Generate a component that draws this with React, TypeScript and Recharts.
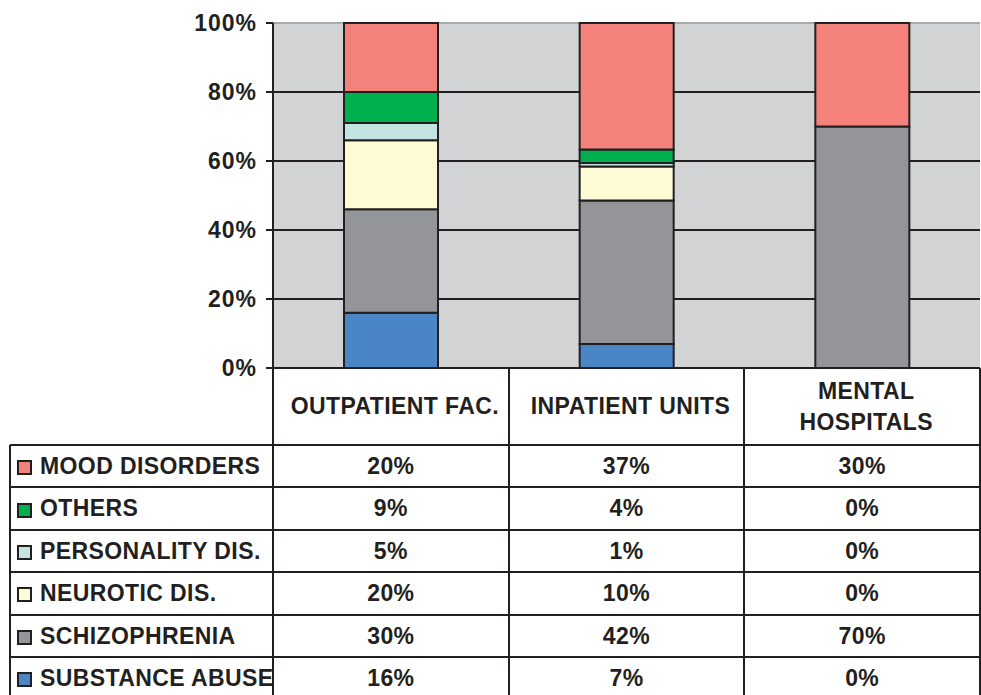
import { Bar, BarChart, CartesianGrid, XAxis, YAxis } from "recharts";

const categories = ["OUTPATIENT FAC.", "INPATIENT UNITS", "MENTAL HOSPITALS"];
const categoryLines = [["OUTPATIENT FAC."], ["INPATIENT UNITS"], ["MENTAL", "HOSPITALS"]];

const substanceAbuse = [16, 7, 0];
const schizophrenia = [30, 42, 70];
const neuroticDis = [20, 10, 0];
const personalityDis = [5, 1, 0];
const others = [9, 4, 0];
const moodDisorders = [20, 37, 30];

const yTicks = [0, 0.2, 0.4, 0.6, 0.8, 1];

// stacking order, bottom to top
const series = [
  { key: "substance", label: "SUBSTANCE ABUSE", color: "#4a86c5", values: substanceAbuse },
  { key: "schizo", label: "SCHIZOPHRENIA", color: "#939598", values: schizophrenia },
  { key: "neurotic", label: "NEUROTIC DIS.", color: "#fffbd6", values: neuroticDis },
  { key: "personality", label: "PERSONALITY DIS.", color: "#c3e4e1", values: personalityDis },
  { key: "others", label: "OTHERS", color: "#00b04f", values: others },
  { key: "mood", label: "MOOD DISORDERS", color: "#f4827a", values: moodDisorders },
];

const data = categories.map((name, i) => {
  const row: Record<string, string | number> = { name };
  series.forEach((s) => (row[s.key] = s.values[i]));
  return row;
});

const INK = "#231f20";
const FONT = "'Liberation Sans', Arial, Helvetica, sans-serif";
const PLOT_LEFT = 273;
const PLOT_RIGHT = 980;
const PLOT_TOP = 23;
const PLOT_BOTTOM = 368;
const HEADER_BOTTOM = 445;
const ROW_H = 42.4;
const COL_W = (PLOT_RIGHT - PLOT_LEFT) / categories.length;

const textStyle = {
  position: "absolute" as const,
  fontFamily: FONT,
  fontWeight: 700,
  fontSize: 23,
  color: INK,
  letterSpacing: 0.4,
  whiteSpace: "nowrap" as const,
};

const hLine = (y: number, x1: number, x2: number, k: string) => (
  <div key={k} style={{ position: "absolute", left: x1, top: y - 1, width: x2 - x1, height: 2, background: INK }} />
);
const vLine = (x: number, y1: number, y2: number, k: string) => (
  <div key={k} style={{ position: "absolute", left: x - 1, top: y1, width: 2, height: y2 - y1, background: INK }} />
);

export default function App() {
  const rows = [...series].reverse();
  const tableBottom = HEADER_BOTTOM + rows.length * ROW_H;
  return (
    <div style={{ position: "absolute", left: 0, top: 0, width: 981, height: 695, background: "#fff", overflow: "hidden" }}>
      <BarChart
        width={981}
        height={695}
        data={data}
        stackOffset="expand"
        margin={{ top: PLOT_TOP, right: 981 - PLOT_RIGHT, left: PLOT_LEFT - 70, bottom: 695 - PLOT_BOTTOM }}
        barSize={94}
      >
        <CartesianGrid
          vertical={false}
          fill="#d1d3d4"
          fillOpacity={1}
          horizontal={(p: any) => (
            <line
              key={p.key ?? `h-${p.index}`}
              x1={p.x1}
              x2={p.x2}
              y1={p.y1}
              y2={p.y2}
              stroke={Math.abs(p.y1 - PLOT_TOP) < 1 ? "#a7a9ac" : INK}
              strokeWidth={2}
            />
          )}
        />
        <XAxis dataKey="name" hide />
        <YAxis
          width={70}
          domain={[0, 1]}
          ticks={yTicks}
          interval={0}
          tickFormatter={(v: number) => `${Math.round(v * 100)}%`}
          axisLine={{ stroke: INK, strokeWidth: 2 }}
          tickLine={{ stroke: INK, strokeWidth: 2 }}
          tickSize={7}
          tickMargin={9}
          tick={{ fill: INK, fontSize: 23, fontWeight: 700, fontFamily: FONT, letterSpacing: 1 }}
        />
        {series.map((s) => (
          <Bar
            key={s.key}
            dataKey={s.key}
            stackId="a"
            fill={s.color}
            stroke={INK}
            strokeWidth={2}
            isAnimationActive={false}
          />
        ))}
      </BarChart>

      {/* table under the chart */}
      {hLine(PLOT_BOTTOM, PLOT_LEFT, PLOT_RIGHT, "top")}
      {hLine(HEADER_BOTTOM, 10, PLOT_RIGHT, "hdr")}
      {rows.map((_, i) => hLine(HEADER_BOTTOM + (i + 1) * ROW_H, 10, PLOT_RIGHT, `r${i}`))}
      {vLine(10, HEADER_BOTTOM, tableBottom, "v-left")}
      {categories.map((_, i) => vLine(PLOT_LEFT + i * COL_W, PLOT_BOTTOM, tableBottom, `v${i}`))}
      {vLine(PLOT_RIGHT, PLOT_BOTTOM, tableBottom, "v-right")}

      {categoryLines.map((lines, i) => (
        <div
          key={`h${i}`}
          style={{
            ...textStyle,
            left: PLOT_LEFT + i * COL_W + 4,
            width: COL_W,
            top: PLOT_BOTTOM,
            height: HEADER_BOTTOM - PLOT_BOTTOM,
            display: "flex",
            flexDirection: "column",
            justifyContent: "center",
            alignItems: "center",
            lineHeight: "31px",
          }}
        >
          {lines.map((l) => (
            <div key={l}>{l}</div>
          ))}
        </div>
      ))}

      {rows.map((s, r) => {
        const top = HEADER_BOTTOM + r * ROW_H;
        return (
          <div key={s.key}>
            <div
              style={{
                position: "absolute",
                left: 17,
                top: top + ROW_H / 2 - 6,
                width: 11,
                height: 11,
                background: s.color,
                border: `2px solid ${INK}`,
              }}
            />
            <div style={{ ...textStyle, left: 40, top, height: ROW_H, lineHeight: `${ROW_H}px` }}>{s.label}</div>
            {s.values.map((v, c) => (
              <div
                key={c}
                style={{
                  ...textStyle,
                  left: PLOT_LEFT + c * COL_W,
                  width: COL_W,
                  top,
                  height: ROW_H,
                  lineHeight: `${ROW_H}px`,
                  textAlign: "center",
                }}
              >
                {v}%
              </div>
            ))}
          </div>
        );
      })}
    </div>
  );
}
